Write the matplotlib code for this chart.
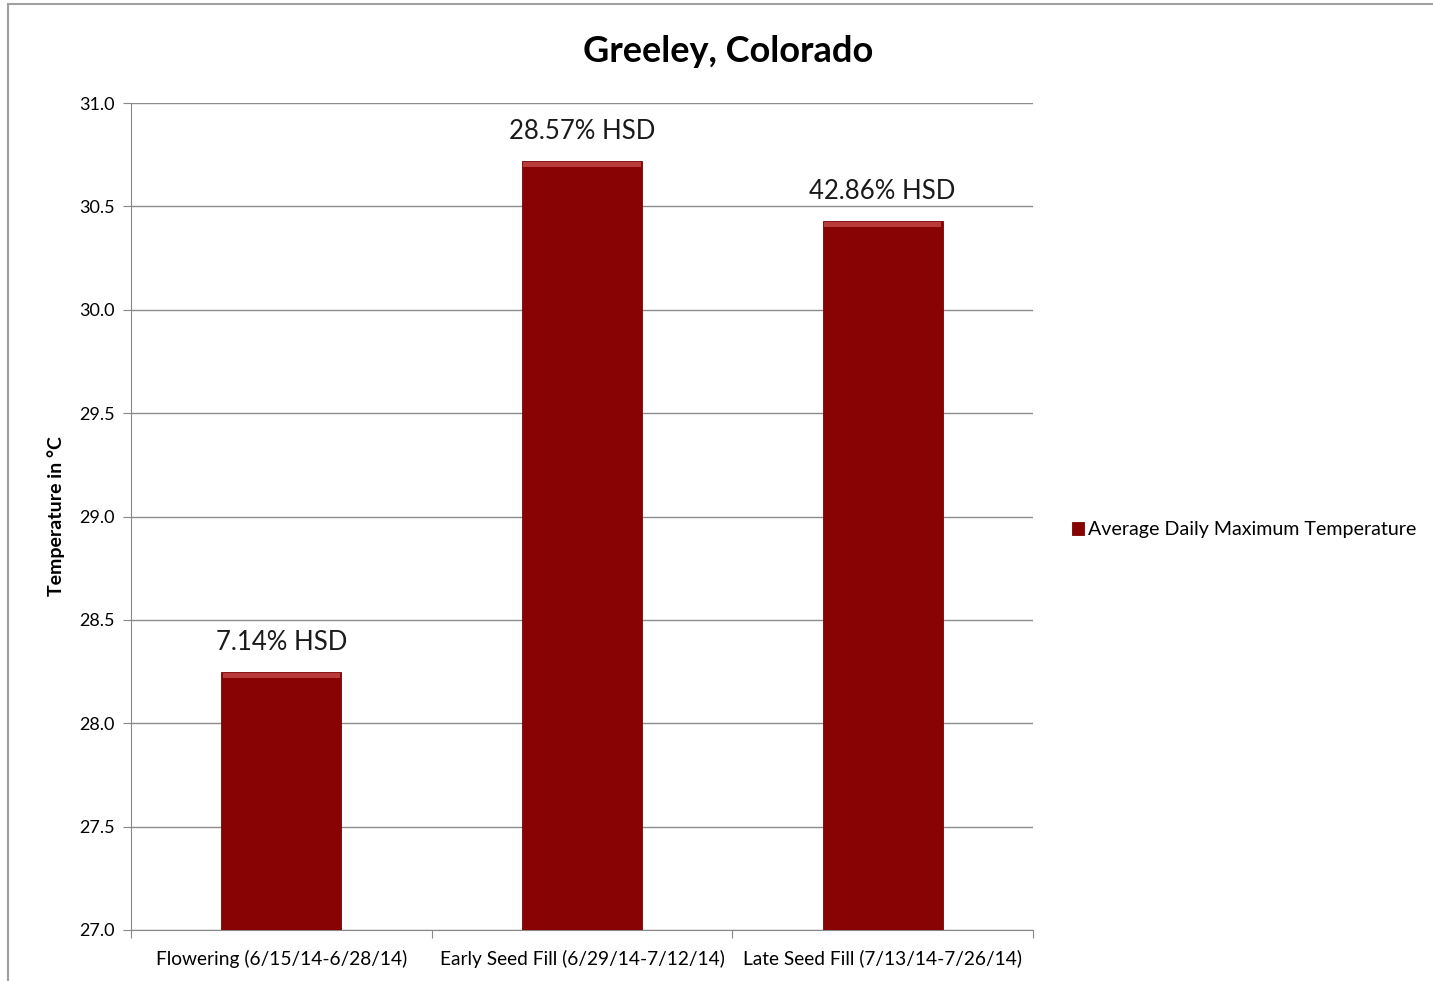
import matplotlib
matplotlib.use("Agg")
import matplotlib.pyplot as plt
from matplotlib.patches import Rectangle

categories = ["Flowering (6/15/14-6/28/14)",
              "Early Seed Fill (6/29/14-7/12/14)",
              "Late Seed Fill (7/13/14-7/26/14)"]
values = [28.25, 30.72, 30.43]
annotations = ["7.14% HSD", "28.57% HSD", "42.86% HSD"]
yticks = [27.0, 27.5, 28.0, 28.5, 29.0, 29.5, 30.0, 30.5, 31.0]
series_name = "Average Daily Maximum Temperature"

plt.rcParams['font.family'] = ['Lato', 'DejaVu Sans']

fig = plt.figure(figsize=(14.33, 9.81), dpi=100)
ax = fig.add_axes([131/1433, 1-930/981, (1033-131)/1433, (930-103)/981])

# figure border
fig.patches.append(Rectangle((8/1433, -0.01), 1.2, 1-4/981+0.01, transform=fig.transFigure,
                             fill=False, edgecolor="#a0a0a0", linewidth=1.5))

x = list(range(len(categories)))
bars = ax.bar(x, [v - 27.0 for v in values], bottom=27.0, width=0.4,
              color="#880404", edgecolor="#7a0202", linewidth=0.6,
              label=series_name, zorder=3)
# top highlight
ax.bar(x, [0.025] * 3, bottom=[v - 0.03 for v in values], width=0.39,
       color="#b83a3a", linewidth=0, zorder=4)

for xi, v, t in zip(x, values, annotations):
    ax.text(xi, v + 0.08, t, ha="center", va="bottom", fontsize=18.5, color="#1a1a1a")

ax.set_xlim(-0.5, 2.5)
ax.set_ylim(27.0, 31.0)
ax.set_yticks(yticks)
ax.set_yticklabels([f"{t:.1f}" for t in yticks], fontsize=13)
ax.set_xticks([-0.5, 0.5, 1.5, 2.5], minor=False)
ax.set_xticklabels([])
ax.set_xticks(x, minor=True)
ax.set_xticklabels(categories, minor=True, fontsize=13.8)
ax.tick_params(axis="x", which="minor", length=0, pad=14)
ax.tick_params(axis="x", which="major", length=6, color="#888888")
ax.tick_params(axis="y", length=6, color="#888888", pad=6)
ax.grid(axis="y", color="#8c8c8c", linewidth=1.0, zorder=0)
for s in ["top", "right"]:
    ax.spines[s].set_visible(False)
for s in ["left", "bottom"]:
    ax.spines[s].set_color("#888888")

ax.set_ylabel("Temperature in °C", fontsize=14, fontweight="bold", labelpad=10)
fig.text(728/1433, 1-52/981, "Greeley, Colorado", ha="center", va="center",
         fontsize=26, fontweight="bold")

leg = fig.legend(handles=[bars], labels=[series_name], loc="center left",
                 bbox_to_anchor=(1064/1433, 1-530/981), frameon=False, fontsize=14.1,
                 handlelength=0.6, handleheight=0.6, handletextpad=0.2,
                 borderaxespad=0, borderpad=0.4)

fig.savefig("out.png", dpi=100)
